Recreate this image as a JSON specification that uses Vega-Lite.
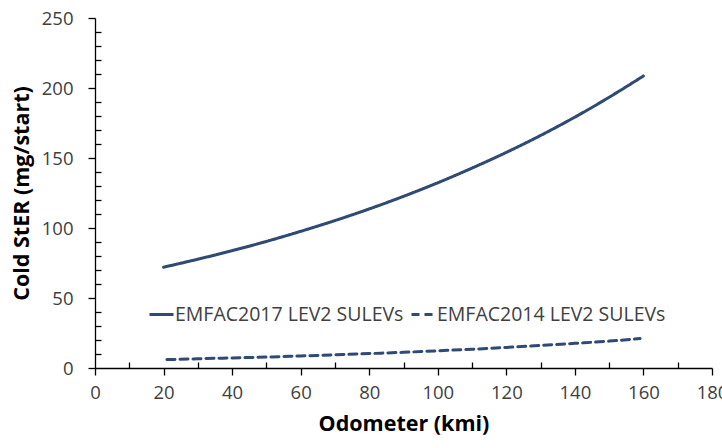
{
  "$schema": "https://vega.github.io/schema/vega-lite/v6.json",
  "width": 617,
  "height": 350,
  "autosize": {"type": "none"},
  "padding": {"left": 95, "top": 18, "right": 10, "bottom": 80},
  "background": "white",
  "config": {"view": {"stroke": null}, "font": "Open Sans"},
  "data": {"values": [
    {"odo": 20, "v": 72.0, "s": "EMFAC2017 LEV2 SULEVs"},
    {"odo": 30, "v": 77.7, "s": "EMFAC2017 LEV2 SULEVs"},
    {"odo": 40, "v": 83.8, "s": "EMFAC2017 LEV2 SULEVs"},
    {"odo": 50, "v": 90.4, "s": "EMFAC2017 LEV2 SULEVs"},
    {"odo": 60, "v": 97.6, "s": "EMFAC2017 LEV2 SULEVs"},
    {"odo": 70, "v": 105.3, "s": "EMFAC2017 LEV2 SULEVs"},
    {"odo": 80, "v": 113.6, "s": "EMFAC2017 LEV2 SULEVs"},
    {"odo": 90, "v": 122.6, "s": "EMFAC2017 LEV2 SULEVs"},
    {"odo": 100, "v": 132.3, "s": "EMFAC2017 LEV2 SULEVs"},
    {"odo": 110, "v": 142.8, "s": "EMFAC2017 LEV2 SULEVs"},
    {"odo": 120, "v": 154.0, "s": "EMFAC2017 LEV2 SULEVs"},
    {"odo": 130, "v": 166.1, "s": "EMFAC2017 LEV2 SULEVs"},
    {"odo": 140, "v": 179.2, "s": "EMFAC2017 LEV2 SULEVs"},
    {"odo": 150, "v": 193.4, "s": "EMFAC2017 LEV2 SULEVs"},
    {"odo": 160, "v": 208.6, "s": "EMFAC2017 LEV2 SULEVs"},
    {"odo": 21, "v": 6.0, "s": "EMFAC2014 LEV2 SULEVs"},
    {"odo": 30, "v": 6.6, "s": "EMFAC2014 LEV2 SULEVs"},
    {"odo": 40, "v": 7.2, "s": "EMFAC2014 LEV2 SULEVs"},
    {"odo": 50, "v": 7.8, "s": "EMFAC2014 LEV2 SULEVs"},
    {"odo": 60, "v": 8.6, "s": "EMFAC2014 LEV2 SULEVs"},
    {"odo": 70, "v": 9.4, "s": "EMFAC2014 LEV2 SULEVs"},
    {"odo": 80, "v": 10.3, "s": "EMFAC2014 LEV2 SULEVs"},
    {"odo": 90, "v": 11.2, "s": "EMFAC2014 LEV2 SULEVs"},
    {"odo": 100, "v": 12.3, "s": "EMFAC2014 LEV2 SULEVs"},
    {"odo": 110, "v": 13.4, "s": "EMFAC2014 LEV2 SULEVs"},
    {"odo": 120, "v": 14.7, "s": "EMFAC2014 LEV2 SULEVs"},
    {"odo": 130, "v": 16.1, "s": "EMFAC2014 LEV2 SULEVs"},
    {"odo": 140, "v": 17.6, "s": "EMFAC2014 LEV2 SULEVs"},
    {"odo": 150, "v": 19.2, "s": "EMFAC2014 LEV2 SULEVs"},
    {"odo": 159, "v": 21.0, "s": "EMFAC2014 LEV2 SULEVs"}
  ]},
  "mark": {"type": "line", "color": "#2F4A74", "strokeWidth": 3, "interpolate": "monotone", "strokeCap": "round"},
  "encoding": {
    "x": {
      "field": "odo", "type": "quantitative",
      "scale": {"domain": [0, 180], "nice": false, "zero": false},
      "axis": {
        "title": "Odometer (kmi)",
        "titleFont": "Open Sans", "titleFontSize": 21.5, "titleFontWeight": "bold", "titleColor": "#000000", "titlePadding": 12,
        "values": [0,10,20,30,40,50,60,70,80,90,100,110,120,130,140,150,160,170,180],
        "labelExpr": "datum.value % 20 === 0 ? datum.label : ''",
        "labelFont": "Open Sans", "labelFontSize": 18.5, "labelColor": "#404040", "labelPadding": 8,
        "labelOverlap": false, "labelFlush": false,
        "tickSize": {"expr": "datum.value % 20 === 0 ? 7 : -6"},
        "tickColor": "#000000", "domainColor": "#000000", "domainWidth": 1.3, "tickWidth": 1.3,
        "grid": false
      }
    },
    "y": {
      "field": "v", "type": "quantitative",
      "scale": {"domain": [0, 250], "nice": false},
      "axis": {
        "title": "Cold StER (mg/start)",
        "titleFont": "Open Sans", "titleFontSize": 21.5, "titleFontWeight": "bold", "titleColor": "#000000", "titlePadding": 8,
        "values": [0,10,20,30,40,50,60,70,80,90,100,110,120,130,140,150,160,170,180,190,200,210,220,230,240,250],
        "labelExpr": "datum.value % 50 === 0 ? datum.label : ''",
        "labelFont": "Open Sans", "labelFontSize": 18.5, "labelColor": "#404040", "labelPadding": 15,
        "labelOverlap": false, "labelFlush": false,
        "tickSize": {"expr": "datum.value % 50 === 0 ? 7 : -6"},
        "tickColor": "#000000", "domainColor": "#000000", "domainWidth": 1.3, "tickWidth": 1.3,
        "grid": false
      }
    },
    "strokeDash": {
      "field": "s", "type": "nominal",
      "scale": {"domain": ["EMFAC2017 LEV2 SULEVs", "EMFAC2014 LEV2 SULEVs"], "range": [[1, 0], [8, 5]]},
      "legend": {
        "title": null, "orient": "none", "legendX": 53, "legendY": 283, "direction": "horizontal",
        "symbolType": "stroke", "symbolStrokeColor": "#2F4A74", "symbolStrokeWidth": 3, "symbolSize": 576,
        "labelFont": "Open Sans", "labelFontSize": 19.5, "labelColor": "#404040", "labelOffset": 0, "labelLimit": 0,
        "columnPadding": 1
      }
    }
  }
}
